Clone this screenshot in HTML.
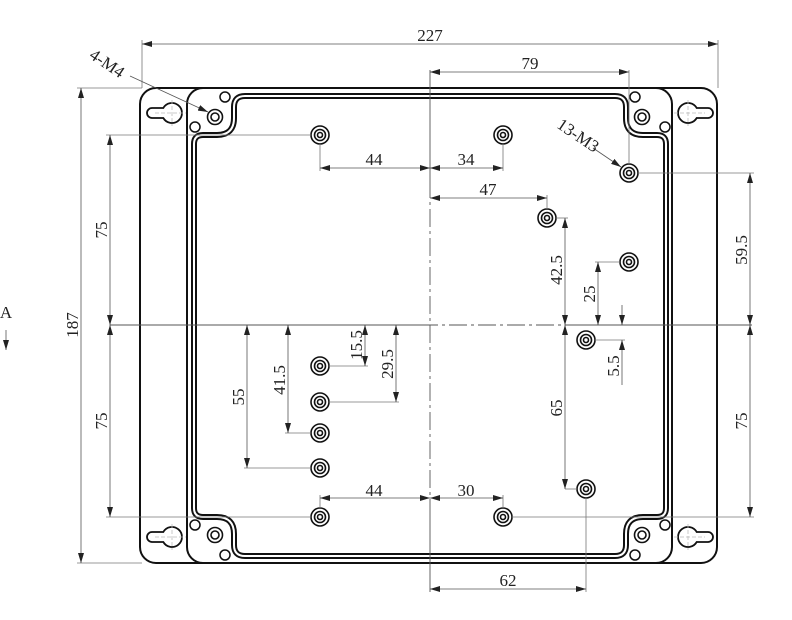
<!DOCTYPE html>
<html><head><meta charset="utf-8"><style>
html,body{margin:0;padding:0;background:#fff;}
svg{display:block;}
text{font-family:"Liberation Serif",serif;font-size:17px;fill:#222;}
</style></head><body>
<svg width="792" height="620" viewBox="0 0 792 620" xmlns="http://www.w3.org/2000/svg">
<defs>
<marker id="a" viewBox="0 0 10 6" refX="10" refY="3" markerWidth="10" markerHeight="6" orient="auto-start-reverse" markerUnits="userSpaceOnUse"><path d="M0,0 L10,3 L0,6 Z" fill="#222"/></marker>
</defs>
<g fill="none" stroke="#111" stroke-width="2">
<rect x="140" y="88" width="577" height="475" rx="16"/>
<rect x="187" y="88" width="485" height="475" rx="16"/>
</g>
<path id="g" d="M 245 96 L 615 96 Q 626 96 626 107 L 626 118 Q 626 135 643 135 L 657 135 Q 666 135 666 144 L 666 508 Q 666 517 657 517 L 643 517 Q 626 517 626 534 L 626 545 Q 626 556 615 556 L 245 556 Q 234 556 234 545 L 234 534 Q 234 517 217 517 L 203 517 Q 194 517 194 508 L 194 144 Q 194 135 203 135 L 217 135 Q 234 135 234 118 L 234 107 Q 234 96 245 96 Z" fill="none" stroke="#111" stroke-width="6"/>
<path d="M 245 96 L 615 96 Q 626 96 626 107 L 626 118 Q 626 135 643 135 L 657 135 Q 666 135 666 144 L 666 508 Q 666 517 657 517 L 643 517 Q 626 517 626 534 L 626 545 Q 626 556 615 556 L 245 556 Q 234 556 234 545 L 234 534 Q 234 517 217 517 L 203 517 Q 194 517 194 508 L 194 144 Q 194 135 203 135 L 217 135 Q 234 135 234 118 L 234 107 Q 234 96 245 96 Z" fill="none" stroke="#fff" stroke-width="2"/>
<g fill="#fff" stroke="#111" stroke-width="1.8">
<path d="M 163.3 108 L 152 108 A 5 5 0 0 0 152 118 L 163.3 118 A 10 10 0 1 0 163.3 108 Z"/>
<path d="M 163.3 532 L 152 532 A 5 5 0 0 0 152 542 L 163.3 542 A 10 10 0 1 0 163.3 532 Z"/>
<path d="M 696.7 108 L 708 108 A 5 5 0 0 1 708 118 L 696.7 118 A 10 10 0 1 1 696.7 108 Z"/>
<path d="M 696.7 532 L 708 532 A 5 5 0 0 1 708 542 L 696.7 542 A 10 10 0 1 1 696.7 532 Z"/>
</g>
<g stroke="#bbb" stroke-width="0.8" stroke-dasharray="4,2">
<line x1="155" y1="113" x2="186" y2="113"/><line x1="172" y1="100" x2="172" y2="126"/>
<line x1="155" y1="537" x2="186" y2="537"/><line x1="172" y1="524" x2="172" y2="550"/>
<line x1="674" y1="113" x2="705" y2="113"/><line x1="688" y1="100" x2="688" y2="126"/>
<line x1="674" y1="537" x2="705" y2="537"/><line x1="688" y1="524" x2="688" y2="550"/>
</g>
<g fill="none" stroke="#111" stroke-width="1.5">
<circle cx="225" cy="97" r="5"/><circle cx="195" cy="127" r="5"/>
<circle cx="635" cy="97" r="5"/><circle cx="665" cy="127" r="5"/>
<circle cx="195" cy="525" r="5"/><circle cx="225" cy="555" r="5"/>
<circle cx="665" cy="525" r="5"/><circle cx="635" cy="555" r="5"/>
</g>
<g fill="none" stroke="#111" stroke-width="1.6">
<circle cx="215" cy="117" r="7.5"/><circle cx="215" cy="117" r="4"/>
<circle cx="642" cy="117" r="7.5"/><circle cx="642" cy="117" r="4"/>
<circle cx="215" cy="535" r="7.5"/><circle cx="215" cy="535" r="4"/>
<circle cx="642" cy="535" r="7.5"/><circle cx="642" cy="535" r="4"/>
</g>
<g fill="none" stroke="#111" stroke-width="1.6">
<circle cx="320" cy="135" r="9"/><circle cx="320" cy="135" r="5.5"/><circle cx="320" cy="135" r="2.5"/>
<circle cx="503" cy="135" r="9"/><circle cx="503" cy="135" r="5.5"/><circle cx="503" cy="135" r="2.5"/>
<circle cx="629" cy="173" r="9"/><circle cx="629" cy="173" r="5.5"/><circle cx="629" cy="173" r="2.5"/>
<circle cx="547" cy="218" r="9"/><circle cx="547" cy="218" r="5.5"/><circle cx="547" cy="218" r="2.5"/>
<circle cx="629" cy="262" r="9"/><circle cx="629" cy="262" r="5.5"/><circle cx="629" cy="262" r="2.5"/>
<circle cx="586" cy="340" r="9"/><circle cx="586" cy="340" r="5.5"/><circle cx="586" cy="340" r="2.5"/>
<circle cx="320" cy="366" r="9"/><circle cx="320" cy="366" r="5.5"/><circle cx="320" cy="366" r="2.5"/>
<circle cx="320" cy="402" r="9"/><circle cx="320" cy="402" r="5.5"/><circle cx="320" cy="402" r="2.5"/>
<circle cx="320" cy="433" r="9"/><circle cx="320" cy="433" r="5.5"/><circle cx="320" cy="433" r="2.5"/>
<circle cx="320" cy="468" r="9"/><circle cx="320" cy="468" r="5.5"/><circle cx="320" cy="468" r="2.5"/>
<circle cx="586" cy="489" r="9"/><circle cx="586" cy="489" r="5.5"/><circle cx="586" cy="489" r="2.5"/>
<circle cx="320" cy="517" r="9"/><circle cx="320" cy="517" r="5.5"/><circle cx="320" cy="517" r="2.5"/>
<circle cx="503" cy="517" r="9"/><circle cx="503" cy="517" r="5.5"/><circle cx="503" cy="517" r="2.5"/>
</g>
<g stroke="#555" stroke-width="0.9" fill="none">
<line x1="430" y1="70" x2="430" y2="180"/>
<line x1="430" y1="180" x2="430" y2="500" stroke-dasharray="18,4,3,4"/>
<line x1="430" y1="500" x2="430" y2="592"/>
<line x1="110" y1="325" x2="420" y2="325"/>
<line x1="420" y1="325" x2="570" y2="325" stroke-dasharray="18,4,3,4"/>
<line x1="570" y1="325" x2="752" y2="325"/>
</g>
<g stroke="#777" stroke-width="0.8" fill="none">
<line x1="142" y1="40" x2="142" y2="88"/><line x1="718" y1="40" x2="718" y2="88"/>
<line x1="629" y1="70" x2="629" y2="164"/>
<line x1="77" y1="88" x2="142" y2="88"/><line x1="77" y1="563" x2="142" y2="563"/>
<line x1="106" y1="135" x2="311" y2="135"/><line x1="106" y1="517" x2="311" y2="517"/>
<line x1="512" y1="517" x2="754" y2="517"/>
<line x1="638" y1="173" x2="754" y2="173"/>
<line x1="320" y1="144" x2="320" y2="171"/><line x1="503" y1="144" x2="503" y2="171"/>
<line x1="547" y1="195" x2="547" y2="209"/>
<line x1="556" y1="218" x2="568" y2="218"/>
<line x1="595" y1="262" x2="620" y2="262"/>
<line x1="595" y1="340" x2="625" y2="340"/>
<line x1="565" y1="489" x2="577" y2="489"/>
<line x1="329" y1="366" x2="368" y2="366"/>
<line x1="329" y1="402" x2="399" y2="402"/>
<line x1="285" y1="433" x2="311" y2="433"/>
<line x1="244" y1="468" x2="311" y2="468"/>
<line x1="320" y1="495" x2="320" y2="508"/>
<line x1="503" y1="495" x2="503" y2="508"/>
<line x1="586" y1="498" x2="586" y2="592"/>
</g>
<g stroke="#555" stroke-width="0.8" fill="none" marker-start="url(#a)" marker-end="url(#a)">
<line x1="142" y1="44" x2="718" y2="44"/>
<line x1="430" y1="72" x2="629" y2="72"/>
<line x1="81" y1="88" x2="81" y2="563"/>
<line x1="110" y1="135" x2="110" y2="325"/>
<line x1="110" y1="325" x2="110" y2="517"/>
<line x1="750" y1="173" x2="750" y2="325"/>
<line x1="750" y1="325" x2="750" y2="517"/>
<line x1="320" y1="168" x2="430" y2="168"/>
<line x1="430" y1="168" x2="503" y2="168"/>
<line x1="430" y1="198" x2="547" y2="198"/>
<line x1="565" y1="218" x2="565" y2="325"/>
<line x1="598" y1="262" x2="598" y2="325"/>
<line x1="565" y1="325" x2="565" y2="489"/>
<line x1="365" y1="325" x2="365" y2="366"/>
<line x1="396" y1="325" x2="396" y2="402"/>
<line x1="288" y1="325" x2="288" y2="433"/>
<line x1="247" y1="325" x2="247" y2="468"/>
<line x1="320" y1="498" x2="430" y2="498"/>
<line x1="430" y1="498" x2="503" y2="498"/>
<line x1="430" y1="589" x2="586" y2="589"/>
</g>
<g stroke="#555" stroke-width="0.8" fill="none">
<line x1="622" y1="305" x2="622" y2="325" marker-end="url(#a)"/>
<line x1="622" y1="340" x2="622" y2="385" marker-start="url(#a)"/>
<line x1="130" y1="76" x2="208" y2="112" marker-end="url(#a)"/>
<line x1="593" y1="148" x2="621" y2="167" marker-end="url(#a)"/>
<line x1="6" y1="330" x2="6" y2="350" marker-end="url(#a)"/>
</g>
<text x="430" y="41" text-anchor="middle">227</text>
<text x="530" y="69" text-anchor="middle">79</text>
<text x="374" y="165" text-anchor="middle">44</text>
<text x="466" y="165" text-anchor="middle">34</text>
<text x="488" y="195" text-anchor="middle">47</text>
<text x="374" y="496" text-anchor="middle">44</text>
<text x="466" y="496" text-anchor="middle">30</text>
<text x="508" y="586" text-anchor="middle">62</text>
<text x="6" y="318" text-anchor="middle">A</text>
<text transform="translate(78,325) rotate(-90)" text-anchor="middle">187</text>
<text transform="translate(107,230) rotate(-90)" text-anchor="middle">75</text>
<text transform="translate(107,421) rotate(-90)" text-anchor="middle">75</text>
<text transform="translate(747,421) rotate(-90)" text-anchor="middle">75</text>
<text transform="translate(747,250) rotate(-90)" text-anchor="middle">59.5</text>
<text transform="translate(562,270) rotate(-90)" text-anchor="middle">42.5</text>
<text transform="translate(595,294) rotate(-90)" text-anchor="middle">25</text>
<text transform="translate(619,366) rotate(-90)" text-anchor="middle">5.5</text>
<text transform="translate(562,408) rotate(-90)" text-anchor="middle">65</text>
<text transform="translate(362,345) rotate(-90)" text-anchor="middle">15.5</text>
<text transform="translate(393,364) rotate(-90)" text-anchor="middle">29.5</text>
<text transform="translate(285,380) rotate(-90)" text-anchor="middle">41.5</text>
<text transform="translate(244,397) rotate(-90)" text-anchor="middle">55</text>
<text transform="translate(104,68) rotate(34)" text-anchor="middle">4-M4</text>
<text transform="translate(575,140) rotate(34)" text-anchor="middle">13-M3</text>
</svg>
</body></html>
